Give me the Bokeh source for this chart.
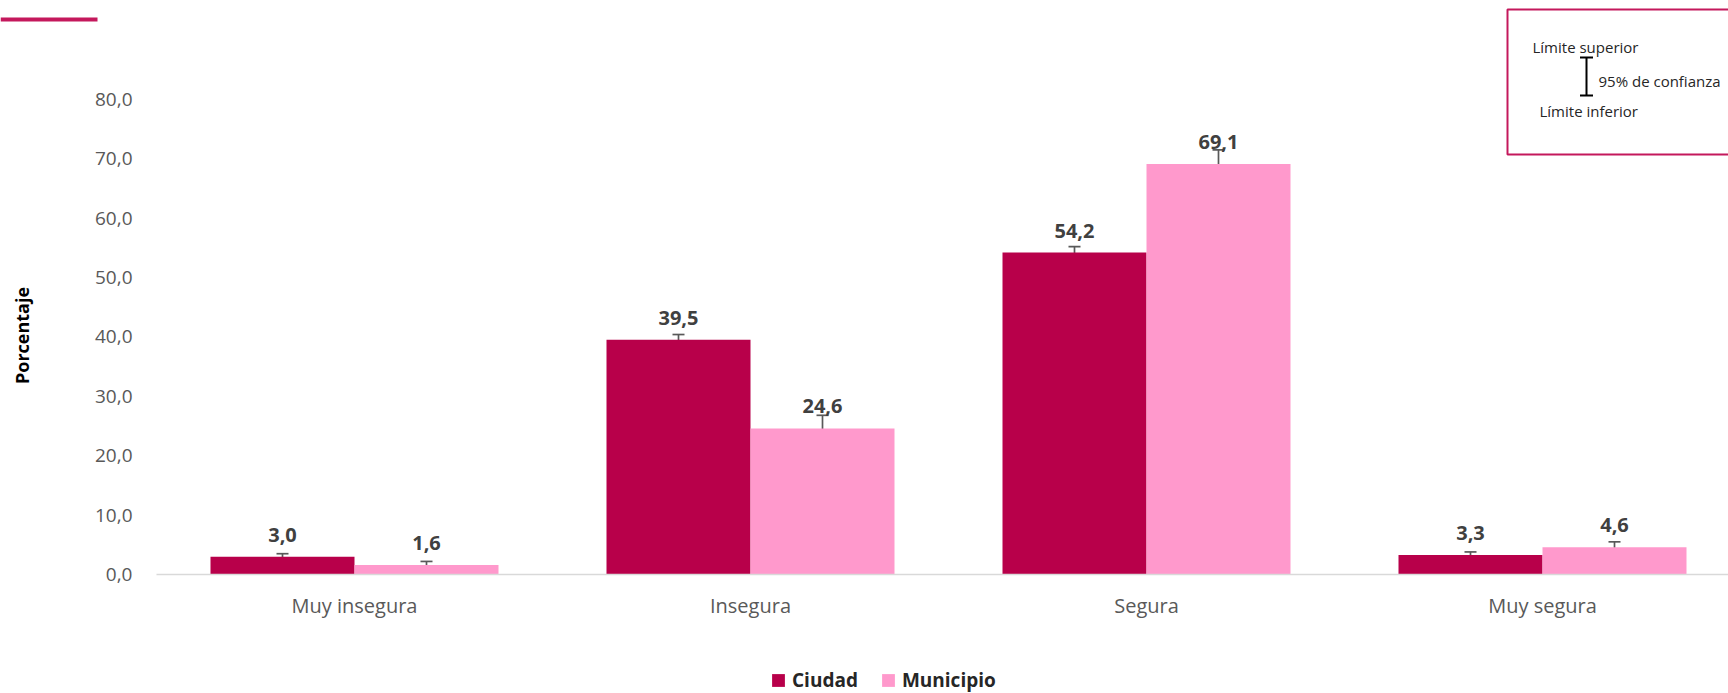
from bokeh.plotting import figure
from bokeh.models import (ColumnDataSource, Range1d, FixedTicker, Whisker, TeeHead,
                          Legend, LegendItem, Label, Arrow, BoxAnnotation)
from bokeh.core.properties import value
from bokeh.embed import file_html
from bokeh.resources import INLINE
import numpy as np

# ---------------- data ----------------
categories = ["Muy insegura", "Insegura", "Segura", "Muy segura"]
series_names = ["Ciudad", "Municipio"]
ciudad = [3.0, 39.5, 54.2, 3.3]
ciudad_low = [2.5, 38.6, 53.2, 2.8]
ciudad_high = [3.5, 40.4, 55.2, 3.8]
municipio = [1.6, 24.6, 69.1, 4.6]
municipio_low = [1.0, 22.2, 66.7, 3.7]
municipio_high = [2.2, 26.8, 71.5, 5.5]
y_ticks = [0, 10, 20, 30, 40, 50, 60, 70, 80]

# ---------------- style / layout ----------------
FONT = "Open Sans"
C_CIUDAD = "#B8004A"
C_MUNI = "#FF99CC"
C_FRAME = "#C4185C"
W, H = 1728, 693
AX_X, AX_Y = 156, 574       # pixel position of the axes origin
CAT_PX = 396.0              # pixels per category
Y_PX = 5.94                 # pixels per percentage point
bar_w = 144.0 / CAT_PX

def px_x(px):
    return (px - AX_X) / CAT_PX

def px_y(py):
    return (AX_Y - py) / Y_PX

x_range = Range1d(px_x(0), px_x(W))
y_range = Range1d(px_y(H), px_y(0))

p = figure(width=W, height=H, x_range=x_range, y_range=y_range,
           min_border=0, output_backend="svg", toolbar_location=None,
           outline_line_color=None, background_fill_color="white",
           border_fill_color="white")
p.xgrid.visible = False
p.ygrid.visible = False

centers = np.arange(len(categories)) + 0.5
fmt = lambda v: f"{v:.1f}".replace(".", ",")

src_c = ColumnDataSource(dict(x=centers - bar_w / 2, top=ciudad, lo=ciudad_low, hi=ciudad_high,
                              lab=[fmt(v) for v in ciudad]))
src_m = ColumnDataSource(dict(x=centers + bar_w / 2, top=municipio, lo=municipio_low, hi=municipio_high,
                              lab=[fmt(v) for v in municipio]))

r_c = p.vbar(x="x", top="top", bottom=0, width=bar_w, source=src_c, fill_color=C_CIUDAD, line_color=None)
r_m = p.vbar(x="x", top="top", bottom=0, width=bar_w, source=src_m, fill_color=C_MUNI, line_color=None)

for src in (src_c, src_m):
    w = Whisker(source=src, base="x", upper="hi", lower="lo", dimension="height",
                line_color="#595959", line_width=1.7,
                upper_head=TeeHead(size=12, line_color="#595959", line_width=1.7),
                lower_head=TeeHead(size=12, line_color="#595959", line_width=1.7))
    p.add_layout(w)
    p.text(x="x", y="top", text="lab", source=src, text_font=value(FONT), text_font_style="bold",
           text_font_size="20px", text_color="#404040", text_align="center",
           text_baseline="middle", y_offset=-22)

# axes (placed at the data origin)
p.xaxis.fixed_location = 0
p.xaxis.bounds = (0, x_range.end)
p.xaxis.ticker = FixedTicker(ticks=list(centers))
p.xaxis.major_label_overrides = {float(c): cat for c, cat in zip(centers, categories)}
p.xaxis.axis_line_color = "#D9D9D9"
p.xaxis.axis_line_width = 1.5
p.xaxis.major_tick_line_color = None
p.xaxis.minor_tick_line_color = None
p.xaxis.major_label_text_font = FONT
p.xaxis.major_label_text_font_size = "20px"
p.xaxis.major_label_text_color = "#595959"
p.xaxis.major_label_standoff = 11

p.yaxis.fixed_location = 0
p.yaxis.bounds = (0, 80.5)
p.yaxis.ticker = FixedTicker(ticks=y_ticks)
p.yaxis.major_label_overrides = {t: fmt(t) for t in y_ticks}
p.yaxis.axis_line_color = None
p.yaxis.major_tick_line_color = None
p.yaxis.minor_tick_line_color = None
p.yaxis.major_label_text_font = FONT
p.yaxis.major_label_text_font_size = "19px"
p.yaxis.major_label_text_color = "#595959"
p.yaxis.major_label_standoff = 18
p.yaxis.axis_label = "Porcentaje"
p.yaxis.axis_label_text_font = FONT
p.yaxis.axis_label_text_font_size = "18px"
p.yaxis.axis_label_text_font_style = "bold"
p.yaxis.axis_label_text_color = "#000000"
p.yaxis.axis_label_standoff = 58

# legend at the bottom
legend = Legend(items=[LegendItem(label=series_names[0], renderers=[r_c]),
                       LegendItem(label=series_names[1], renderers=[r_m])],
                orientation="horizontal", location=(770, 0),
                glyph_width=16, glyph_height=16, label_standoff=6, spacing=22,
                padding=0, margin=0, border_line_color=None, background_fill_alpha=0,
                label_text_font=FONT, label_text_font_size="19px",
                label_text_font_style="bold", label_text_color="#262626", label_height=20)
p.add_layout(legend)

# decorative accent line at the top-left corner
p.add_layout(BoxAnnotation(left=px_x(0), right=px_x(97), top=px_y(17), bottom=px_y(21),
                           fill_color=C_FRAME, fill_alpha=1, line_color=None))

# confidence-interval key box
p.add_layout(BoxAnnotation(left=px_x(1507), right=px_x(1760), top=px_y(9), bottom=px_y(154),
                           fill_alpha=0, line_color=C_FRAME, line_alpha=1, line_width=2))
p.add_layout(Arrow(x_start=px_x(1586), y_start=px_y(57), x_end=px_x(1586), y_end=px_y(95),
                   start=TeeHead(size=13, line_color="black", line_width=2),
                   end=TeeHead(size=13, line_color="black", line_width=2),
                   line_color="black", line_width=2))
for txt, lx, ly in [("Límite superior", 1532, 46), ("95% de confianza", 1598, 80),
                    ("Límite inferior", 1539, 110)]:
    p.add_layout(Label(x=px_x(lx), y=px_y(ly), text=txt, text_baseline="middle",
                       text_font=FONT, text_font_size="15px", text_color="#262626"))

open("out.html", "w").write(file_html(p, INLINE))
